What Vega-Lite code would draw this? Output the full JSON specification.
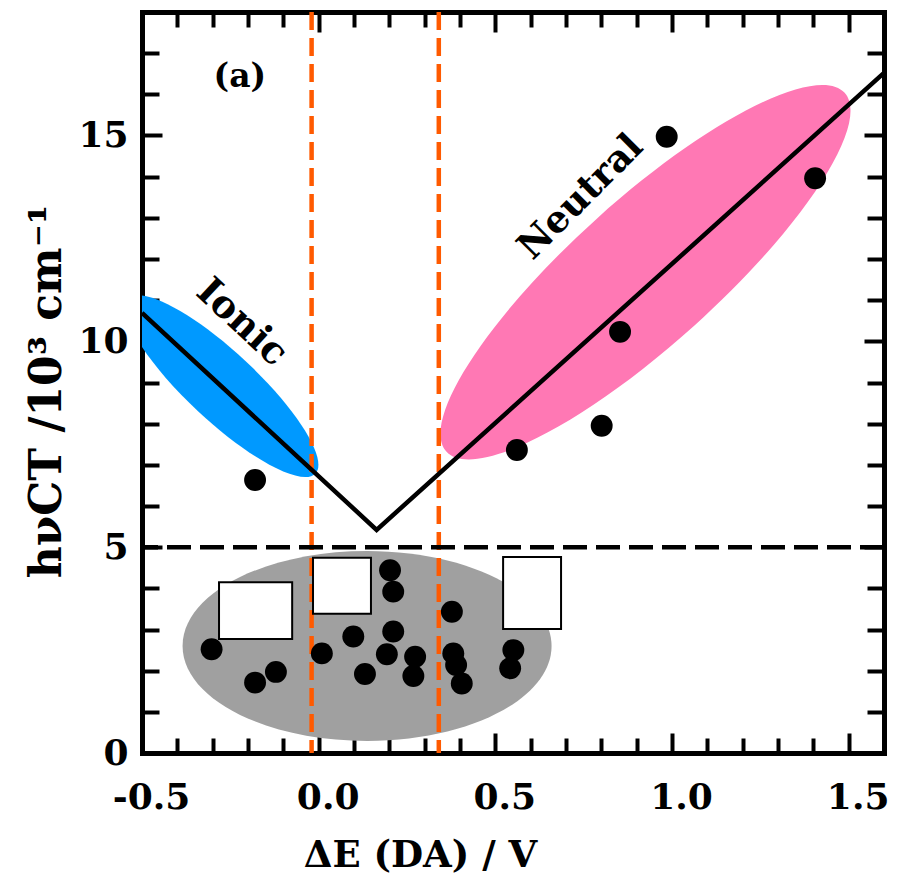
{
  "$schema": "https://vega.github.io/schema/vega-lite/v6.json",
  "width": 742,
  "height": 741,
  "autosize": {"type": "none"},
  "padding": {"left": 142, "top": 12, "right": 13, "bottom": 122},
  "background": "white",
  "config": {
    "view": {"stroke": null},
    "font": "DejaVu Serif",
    "text": {"font": "DejaVu Serif", "fontWeight": "bold", "color": "black"}
  },
  "datasets": {
    "points": [
      {"dE": -0.180, "hv": 6.63},
      {"dE": 0.561, "hv": 7.36},
      {"dE": 0.801, "hv": 7.95},
      {"dE": 0.853, "hv": 10.23},
      {"dE": 0.985, "hv": 14.97},
      {"dE": 1.405, "hv": 13.96},
      {"dE": -0.303, "hv": 2.52},
      {"dE": -0.180, "hv": 1.71},
      {"dE": -0.121, "hv": 1.97},
      {"dE": 0.009, "hv": 2.42},
      {"dE": 0.098, "hv": 2.83},
      {"dE": 0.131, "hv": 1.92},
      {"dE": 0.202, "hv": 4.44},
      {"dE": 0.211, "hv": 3.92},
      {"dE": 0.211, "hv": 2.95},
      {"dE": 0.193, "hv": 2.40},
      {"dE": 0.273, "hv": 2.34},
      {"dE": 0.268, "hv": 1.87},
      {"dE": 0.377, "hv": 3.43},
      {"dE": 0.381, "hv": 2.42},
      {"dE": 0.389, "hv": 2.14},
      {"dE": 0.405, "hv": 1.69},
      {"dE": 0.551, "hv": 2.50},
      {"dE": 0.542, "hv": 2.06}
    ],
    "fit": [
      {"dE": -0.5, "hv": 10.69},
      {"dE": 0.164, "hv": 5.42},
      {"dE": 1.6, "hv": 16.52}
    ],
    "regions": [
      {"region": "Ionic", "dE": -0.274, "hv": 8.91},
      {"region": "Neutral", "dE": 0.925, "hv": 11.68},
      {"region": "CT", "dE": 0.137, "hv": 2.60}
    ],
    "bounds": [{"dE": -0.02}, {"dE": 0.34}],
    "threshold": [{"hv": 5}],
    "boxes": [
      {"x1": -0.282, "x2": -0.075, "y1": 4.15, "y2": 2.77},
      {"x1": -0.016, "x2": 0.148, "y1": 4.74, "y2": 3.38},
      {"x1": 0.522, "x2": 0.686, "y1": 4.76, "y2": 3.01}
    ],
    "labels": [
      {"label": "(a)", "dE": -0.223, "hv": 16.42},
      {"label": "Ionic", "dE": -0.218, "hv": 10.45},
      {"label": "Neutral", "dE": 0.742, "hv": 13.5}
    ]
  },
  "layer": [
    {
      "data": {"name": "regions"},
      "transform": [{"filter": "datum.region === 'CT'"}],
      "mark": {"type": "point", "filled": true, "color": "#A0A0A0", "opacity": 1, "strokeWidth": 0, "size": 136161,
        "shape": "M 1 0 C 1 0.2844 0.5523 0.515 0 0.515 C -0.5523 0.515 -1 0.2844 -1 0 C -1 -0.2844 -0.5523 -0.515 0 -0.515 C 0.5523 -0.515 1 -0.2844 1 0 Z"},
      "encoding": {
        "x": {"field": "dE", "type": "quantitative", "scale": {"domain": [-0.5, 1.6], "nice": false, "zero": false}, "axis": null},
        "y": {"field": "hv", "type": "quantitative", "scale": {"domain": [0, 18], "nice": false, "zero": false}, "axis": null}
      }
    },
    {
      "data": {"name": "regions"},
      "transform": [{"filter": "datum.region === 'Ionic'"}],
      "mark": {"type": "point", "filled": true, "color": "#0099FF", "opacity": 1, "strokeWidth": 0, "size": 65536, "angle": 43, "clip": true,
        "shape": "M 1 0 C 1 0.1491 0.5523 0.27 0 0.27 C -0.5523 0.27 -1 0.1491 -1 0 C -1 -0.1491 -0.5523 -0.27 0 -0.27 C 0.5523 -0.27 1 -0.1491 1 0 Z"},
      "encoding": {
        "x": {"field": "dE", "type": "quantitative", "axis": null},
        "y": {"field": "hv", "type": "quantitative", "axis": null}
      }
    },
    {
      "data": {"name": "regions"},
      "transform": [{"filter": "datum.region === 'Neutral'"}],
      "mark": {"type": "point", "filled": true, "color": "#FF78B4", "opacity": 1, "strokeWidth": 0, "size": 287296, "angle": -42, "clip": true,
        "shape": "M 1 0 C 1 0.1493 0.5523 0.27 0 0.27 C -0.5523 0.27 -1 0.1493 -1 0 C -1 -0.1493 -0.5523 -0.27 0 -0.27 C 0.5523 -0.27 1 -0.1493 1 0 Z"},
      "encoding": {
        "x": {"field": "dE", "type": "quantitative", "axis": null},
        "y": {"field": "hv", "type": "quantitative", "axis": null}
      }
    },
    {
      "data": {"name": "bounds"},
      "mark": {"type": "rule", "color": "#FF5A00", "strokeWidth": 4.5, "strokeDash": [18, 8]},
      "encoding": {
        "x": {"field": "dE", "type": "quantitative", "axis": null}
      }
    },
    {
      "data": {"name": "threshold"},
      "mark": {"type": "rule", "color": "black", "strokeWidth": 4.5, "strokeDash": [24, 9]},
      "encoding": {
        "y": {"field": "hv", "type": "quantitative", "axis": null}
      }
    },
    {
      "data": {"name": "fit"},
      "mark": {"type": "line", "color": "black", "strokeWidth": 4.5},
      "encoding": {
        "x": {"field": "dE", "type": "quantitative",
          "axis": {"orient": "top", "labels": false, "title": null, "grid": false,
            "values": [-0.5,-0.4,-0.3,-0.2,-0.1,0,0.1,0.2,0.3,0.4,0.5,0.6,0.7,0.8,0.9,1.0,1.1,1.2,1.3,1.4,1.5,1.6],
            "tickSize": {"condition": {"test": "abs(datum.value*2 - round(datum.value*2)) < 0.000001", "value": -20}, "value": -15},
            "tickWidth": 4, "tickColor": "black", "domainWidth": 5, "domainColor": "black", "domainCap": "square"}},
        "y": {"field": "hv", "type": "quantitative",
          "axis": {"orient": "right", "labels": false, "title": null, "grid": false,
            "values": [0,1,2,3,4,5,6,7,8,9,10,11,12,13,14,15,16,17,18],
            "tickSize": {"condition": {"test": "datum.value % 5 === 0", "value": -20}, "value": -17},
            "tickWidth": 4, "tickColor": "black", "domainWidth": 5, "domainColor": "black", "domainCap": "square"}}
      }
    },
    {
      "data": {"name": "points"},
      "mark": {"type": "circle", "color": "black", "opacity": 1, "size": 480},
      "encoding": {
        "x": {"field": "dE", "type": "quantitative",
          "axis": {"orient": "bottom", "grid": false,
            "values": [-0.5,-0.4,-0.3,-0.2,-0.1,0,0.1,0.2,0.3,0.4,0.5,0.6,0.7,0.8,0.9,1.0,1.1,1.2,1.3,1.4,1.5,1.6],
            "labelExpr": "abs(datum.value*2 - round(datum.value*2)) < 0.000001 && datum.value < 1.55 ? replace(format(datum.value, '.1f'), '\u2212', '-') : ''",
            "tickSize": {"condition": {"test": "abs(datum.value*2 - round(datum.value*2)) < 0.000001", "value": -20}, "value": -15},
            "tickWidth": 4, "tickColor": "black", "domainWidth": 5, "domainColor": "black", "domainCap": "square",
            "labelFont": "DejaVu Serif", "labelFontWeight": "bold", "labelFontSize": 36, "labelColor": "black",
            "labelPadding": 47, "labelOffset": 9, "labelFlush": false, "labelOverlap": false, "labelBound": false,
            "title": "ΔE (DA) / V", "titleFont": "DejaVu Serif", "titleFontWeight": "bold", "titleFontSize": 37, "titleColor": "black",
            "titleX": 278, "titleY": 102, "titleBaseline": "middle", "titleAlign": "center", "titleAnchor": null}},
        "y": {"field": "hv", "type": "quantitative",
          "axis": {"orient": "left", "grid": false,
            "values": [0,1,2,3,4,5,6,7,8,9,10,11,12,13,14,15,16,17,18],
            "labelExpr": "datum.value % 5 === 0 ? format(datum.value, 'd') : ''",
            "tickSize": {"condition": {"test": "datum.value % 5 === 0", "value": -20}, "value": -17},
            "tickWidth": 4, "tickColor": "black", "domainWidth": 5, "domainColor": "black", "domainCap": "square",
            "labelFont": "DejaVu Serif", "labelFontWeight": "bold", "labelFontSize": 36, "labelColor": "black",
            "labelPadding": 34, "labelFlush": false, "labelOverlap": false, "labelBound": false,
            "title": "hνCT /10³ cm⁻¹", "titleFont": "DejaVu Serif", "titleFontWeight": "bold", "titleFontSize": 44, "titleColor": "black",
            "titleX": -95, "titleY": 379, "titleAngle": -90, "titleBaseline": "middle", "titleAlign": "center", "titleAnchor": null}}
      }
    },
    {
      "data": {"name": "boxes"},
      "mark": {"type": "rect", "fill": "white", "stroke": "black", "strokeWidth": 2},
      "encoding": {
        "x": {"field": "x1", "type": "quantitative", "axis": null},
        "x2": {"field": "x2"},
        "y": {"field": "y1", "type": "quantitative", "axis": null},
        "y2": {"field": "y2"}
      }
    },
    {
      "data": {"name": "labels"},
      "transform": [{"filter": "datum.label === '(a)'"}],
      "mark": {"type": "text", "fontSize": 33, "align": "center", "baseline": "middle"},
      "encoding": {
        "x": {"field": "dE", "type": "quantitative", "axis": null},
        "y": {"field": "hv", "type": "quantitative", "axis": null},
        "text": {"field": "label"}
      }
    },
    {
      "data": {"name": "labels"},
      "transform": [{"filter": "datum.label === 'Ionic'"}],
      "mark": {"type": "text", "fontSize": 38, "align": "center", "baseline": "middle", "angle": 43},
      "encoding": {
        "x": {"field": "dE", "type": "quantitative", "axis": null},
        "y": {"field": "hv", "type": "quantitative", "axis": null},
        "text": {"field": "label"}
      }
    },
    {
      "data": {"name": "labels"},
      "transform": [{"filter": "datum.label === 'Neutral'"}],
      "mark": {"type": "text", "fontSize": 37, "align": "center", "baseline": "middle", "angle": -45},
      "encoding": {
        "x": {"field": "dE", "type": "quantitative", "axis": null},
        "y": {"field": "hv", "type": "quantitative", "axis": null},
        "text": {"field": "label"}
      }
    }
  ],
  "resolve": {"axis": {"x": "independent", "y": "independent"}}
}
